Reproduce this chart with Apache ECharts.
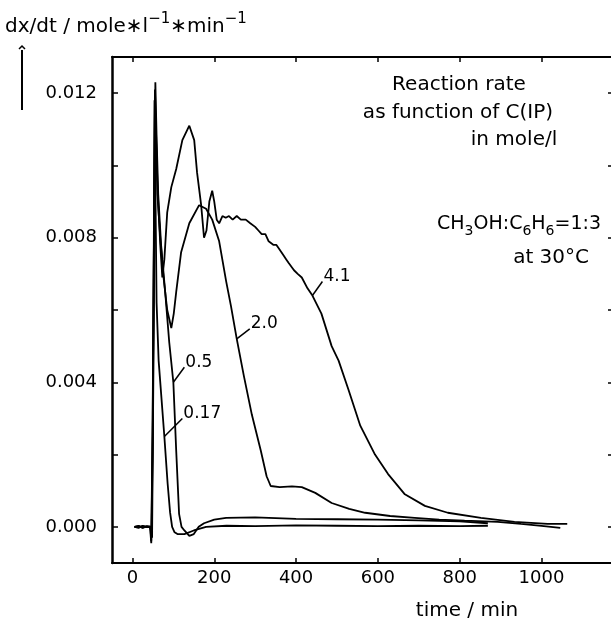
<!DOCTYPE html>
<html>
<head>
<meta charset="utf-8">
<script src="https://cdn.jsdelivr.net/npm/echarts@6/dist/echarts.min.js"></script>
<style>
  html, body { margin: 0; padding: 0; background: #fff; }
  #chart { width: 611px; height: 622px; }
</style>
</head>
<body>
<div id="chart"></div>
<script type="text/javascript">
// data: [time / min, dx/dt]
var c017 = [
  [5, 0], [15, 0.00003], [25, -0.00002], [35, 0.00002], [43, 0], [47, -0.0002], [50, 0.003],
  [54, 0.0118], [56, 0.0095], [59, 0.0062], [64, 0.0046], [70, 0.0037], [78, 0.0025],
  [86, 0.0012], [92, 0.0004], [97, 0.0], [103, -0.00015], [110, -0.0002], [127, -0.0002],
  [150, -0.0001], [180, 0.0], [230, 0.00003], [300, 0.00002], [400, 0.00004], [500, 0.00003],
  [600, 0.00002], [700, 0.00003], [800, 0.00002], [869, 0.00003]
];
var c05 = [
  [5, 0], [15, -0.00002], [25, 0.00002], [35, 0], [44, 0.00001], [48, -0.0003], [51, 0.004],
  [56, 0.0123], [59, 0.0108], [63, 0.0092], [70, 0.0078], [80, 0.0065], [90, 0.0051],
  [100, 0.0040], [107, 0.0021], [114, 0.00036], [120, 0.0], [127, -0.0001], [139, -0.00025],
  [150, -0.0002], [162, 0.0], [175, 0.0001], [200, 0.0002], [229, 0.00025], [300, 0.00026],
  [400, 0.00022], [500, 0.00021], [600, 0.0002], [700, 0.00018], [800, 0.00015], [869, 0.0001]
];
var c20 = [
  [5, 0], [15, 0.00002], [25, -0.00003], [35, 0.00001], [43, 0], [46, -0.00045], [49, 0.002],
  [55, 0.0121], [58, 0.0108], [61, 0.0092], [68, 0.0080], [76, 0.0069], [85, 0.0060],
  [95, 0.0055], [101, 0.0059], [107, 0.0065], [119, 0.0076], [139, 0.0084], [163, 0.0089],
  [180, 0.0088], [195, 0.0085], [212, 0.0079], [229, 0.0068], [241, 0.0061], [255, 0.0052],
  [272, 0.0042], [292, 0.0031], [314, 0.0021], [328, 0.0014], [338, 0.00113], [360, 0.0011],
  [390, 0.00112], [414, 0.0011], [447, 0.00094], [487, 0.00066], [530, 0.0005], [569, 0.00039],
  [630, 0.0003], [690, 0.00025], [750, 0.0002], [812, 0.00017], [893, 0.00014], [950, 0.00008],
  [1000, 0.00003], [1046, -0.00003]
];
var c41 = [
  [5, 0], [15, -0.00002], [25, 0.00003], [35, -0.00001], [44, 0], [46, -0.0004], [49, 0.0025],
  [55, 0.0116], [58, 0.0106], [62, 0.0092], [68, 0.0078], [73, 0.0069], [78, 0.0074],
  [85, 0.0087], [95, 0.0094], [107, 0.0099], [122, 0.0107], [139, 0.0111], [151, 0.0107],
  [158, 0.0098], [168, 0.0089], [175, 0.0080], [181, 0.0082], [188, 0.0090], [195, 0.0093],
  [200, 0.0090], [206, 0.0085], [212, 0.0084], [220, 0.0086], [228, 0.00855], [236, 0.0086],
  [245, 0.0085], [255, 0.0086], [265, 0.0085], [277, 0.0085], [288, 0.0084], [300, 0.0083],
  [308, 0.0082], [316, 0.0081], [325, 0.0081], [333, 0.0079], [345, 0.0078], [352, 0.0078],
  [358, 0.0077], [370, 0.0075], [376, 0.0074], [382, 0.0073], [395, 0.0071], [404, 0.0070],
  [414, 0.0069], [428, 0.0066], [440, 0.0064], [462, 0.0059], [487, 0.0050], [504, 0.0046],
  [528, 0.0038], [557, 0.0028], [593, 0.0020], [625, 0.00146], [666, 0.0009], [715, 0.00058],
  [771, 0.00039], [852, 0.00025], [934, 0.00014], [1015, 0.00008], [1063, 0.00008]
];
var xTicks = [0, 200, 400, 600, 800, 1000];
var yTicks = [0, 0.002, 0.004, 0.006, 0.008, 0.010, 0.012];
var yLabels = [0, 0.004, 0.008, 0.012];
// curve labels: name, anchor on curve [t, v], leader end offset in px
var curveLabels = [
  ['4.1', [440, 0.0064], [10, -14]],
  ['2.0', [255, 0.0052], [13, -10]],
  ['0.5', [100, 0.0040], [11, -15]],
  ['0.17', [78, 0.0025], [18, -18]]
];

var FONT = 'DejaVu Sans';
var myChart = echarts.init(document.getElementById('chart'));

function line(name, data) {
  return {
    name: name, type: 'line', data: data, symbol: 'none',
    lineStyle: { color: '#000', width: 1.8 },
    animation: false
  };
}

var tickStyle = { color: '#000', width: 1.5 };
var option = {
  backgroundColor: '#fff',
  animation: false,
  grid: { left: 112, right: -1, top: 57, bottom: 59 },
  xAxis: [
    {
      type: 'value', position: 'bottom', min: -50, max: 1170,
      axisLine: { onZero: false, lineStyle: { color: '#000', width: 2 } },
      axisTick: { inside: true, length: 5, customValues: xTicks, lineStyle: tickStyle },
      axisLabel: {
        customValues: xTicks, margin: 6, color: '#000', fontFamily: FONT, fontSize: 18,
        formatter: function (v) { return String(v); }
      },
      splitLine: { show: false }
    },
    {
      type: 'value', position: 'top', min: -50, max: 1170,
      axisLine: { onZero: false, lineStyle: { color: '#000', width: 2 } },
      axisTick: { inside: true, length: 5, customValues: xTicks, lineStyle: tickStyle },
      axisLabel: { show: false },
      splitLine: { show: false }
    }
  ],
  yAxis: [
    {
      type: 'value', position: 'left', min: -0.001, max: 0.013,
      axisLine: { show: true, onZero: false, lineStyle: { color: '#000', width: 2.5 } },
      axisTick: { show: true, inside: true, length: 6, customValues: yTicks, lineStyle: tickStyle },
      axisLabel: {
        customValues: yLabels, margin: 15, color: '#000', fontFamily: FONT, fontSize: 18,
        formatter: function (v) { return v.toFixed(3); }
      },
      splitLine: { show: false }
    },
    {
      type: 'value', position: 'right', min: -0.001, max: 0.013,
      axisLine: { show: false, onZero: false },
      axisTick: { show: true, inside: true, length: 3, customValues: yTicks, lineStyle: tickStyle },
      axisLabel: { show: false },
      splitLine: { show: false }
    }
  ],
  series: [
    line('0.17', c017),
    line('0.5', c05),
    line('2.0', c20),
    line('4.1', c41)
  ]
};
myChart.setOption(option);

// texts and curve labels
var txt = { fontFamily: FONT, fill: '#000' };
var rich = {
  b: { fontFamily: FONT, fontSize: 19, lineHeight: 28, color: '#000' },
  t: { fontFamily: FONT, fontSize: 20, lineHeight: 30, color: '#000' },
  sub: { fontFamily: FONT, fontSize: 14, lineHeight: 14, verticalAlign: 'bottom', color: '#000' },
  sup: { fontFamily: FONT, fontSize: 15, lineHeight: 15, verticalAlign: 'top', color: '#000' }
};
var graphics = [
  { type: 'text', left: 5, top: 12, style: { text: '{t|dx/dt / mole∗l}{sup|−1}{t|∗min}{sup|−1}', rich: rich } },
  { type: 'polyline', shape: { points: [[22, 110], [22, 50]] }, style: { stroke: '#000', lineWidth: 2, fill: null } },
  { type: 'polyline', shape: { points: [[19, 49], [22, 46], [25, 49]] }, style: { stroke: '#000', lineWidth: 1.5, fill: null } },
  { type: 'text', x: 467, y: 611, style: Object.assign({ text: 'time / min', fontSize: 20, textAlign: 'center', textVerticalAlign: 'middle' }, txt) },
  { type: 'text', x: 459, y: 85, style: Object.assign({ text: 'Reaction rate', fontSize: 20, textAlign: 'center', textVerticalAlign: 'middle' }, txt) },
  { type: 'text', x: 458, y: 113, style: Object.assign({ text: 'as function of C(IP)', fontSize: 20, textAlign: 'center', textVerticalAlign: 'middle' }, txt) },
  { type: 'text', x: 514, y: 140, style: Object.assign({ text: 'in mole/l', fontSize: 20, textAlign: 'center', textVerticalAlign: 'middle' }, txt) },
  { type: 'text', x: 601, y: 224, style: { text: '{b|CH}{sub|3}{b|OH:C}{sub|6}{b|H}{sub|6}{b|=1:3}', rich: rich, align: 'right', verticalAlign: 'middle' } },
  { type: 'text', x: 589, y: 258, style: Object.assign({ text: 'at 30°C', fontSize: 20, textAlign: 'right', textVerticalAlign: 'middle' }, txt) }
];
curveLabels.forEach(function (cl) {
  var p = myChart.convertToPixel({ xAxisIndex: 0, yAxisIndex: 0 }, cl[1]);
  var dx = cl[2][0], dy = cl[2][1];
  graphics.push({ type: 'line', shape: { x1: p[0], y1: p[1], x2: p[0] + dx, y2: p[1] + dy }, style: { stroke: '#000', lineWidth: 1.5 } });
  graphics.push({ type: 'text', x: p[0] + dx + 1, y: p[1] + dy - 5, style: Object.assign({ text: cl[0], fontSize: 17, textAlign: 'left', textVerticalAlign: 'middle' }, txt) });
});
myChart.setOption({ graphic: graphics });
</script>
</body>
</html>
